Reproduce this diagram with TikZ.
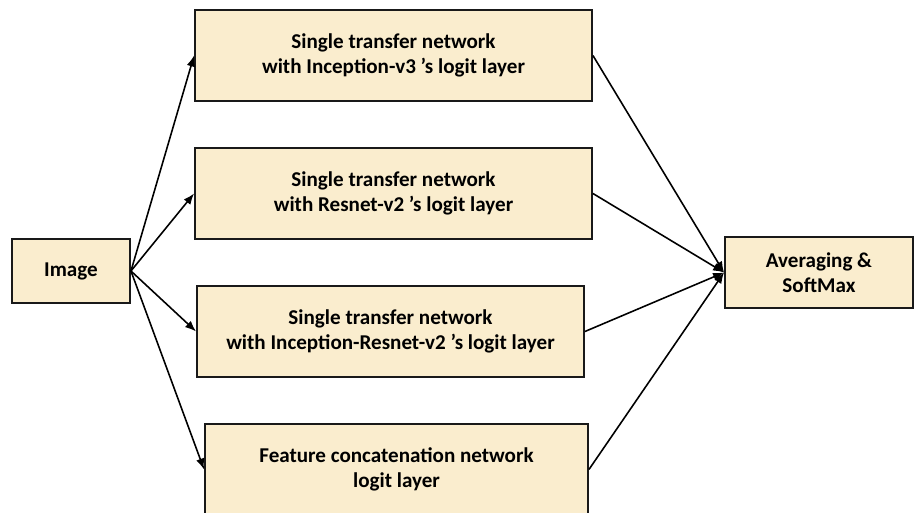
\documentclass[tikz,border=0pt]{standalone}
\usepackage{fontspec}
\setmainfont{Carlito}
\usetikzlibrary{arrows.meta}
\definecolor{boxfill}{RGB}{250,237,206}

\begin{document}
\begin{tikzpicture}[x=0.02cm, y=-0.02cm,
    block/.style={draw=black!90, line width=1.1pt, fill=boxfill, align=center,
      inner sep=0pt, font=\bfseries\fontsize{12}{14}\selectfont},
    netbox/.style={block, minimum width=7.94cm, minimum height=1.82cm},
    flow/.style={-{Latex[length=2.2mm,width=1.7mm]}, line width=0.9pt}]
  \useasboundingbox (0,0) rectangle (915,513);

  \node[block, minimum width=2.36cm, minimum height=1.28cm] (img) at (71,271) {Image};
  \node[netbox] (net1) at (393.5,55.5) {Single transfer network\\with Inception-v3 ’s logit layer};
  \node[netbox] (net2) at (393.5,193.5) {Single transfer network\\with Resnet-v2 ’s logit layer};
  \node[netbox, minimum width=7.74cm] (net3) at (390.5,331.5) {Single transfer network\\with Inception-Resnet-v2 ’s logit layer};
  \node[netbox, minimum width=7.66cm] (net4) at (396.5,469.5) {Feature concatenation network\\logit layer};
  \node[block, minimum width=3.76cm, minimum height=1.42cm] (avg) at (819,272.5) {Averaging \&\\SoftMax};

  \draw[flow] (img.east) to (net1.west);
  \draw[flow] (img.east) to (net2.west);
  \draw[flow] (img.east) to (net3.west);
  \draw[flow] (img.east) to (net4.west);

  \draw[flow] (net1.east) to (avg.west);
  \draw[flow] (net2.east) to (avg.west);
  \draw[flow] (net3.east) to (avg.west);
  \draw[flow] (net4.east) to (avg.west);
\end{tikzpicture}
\end{document}
